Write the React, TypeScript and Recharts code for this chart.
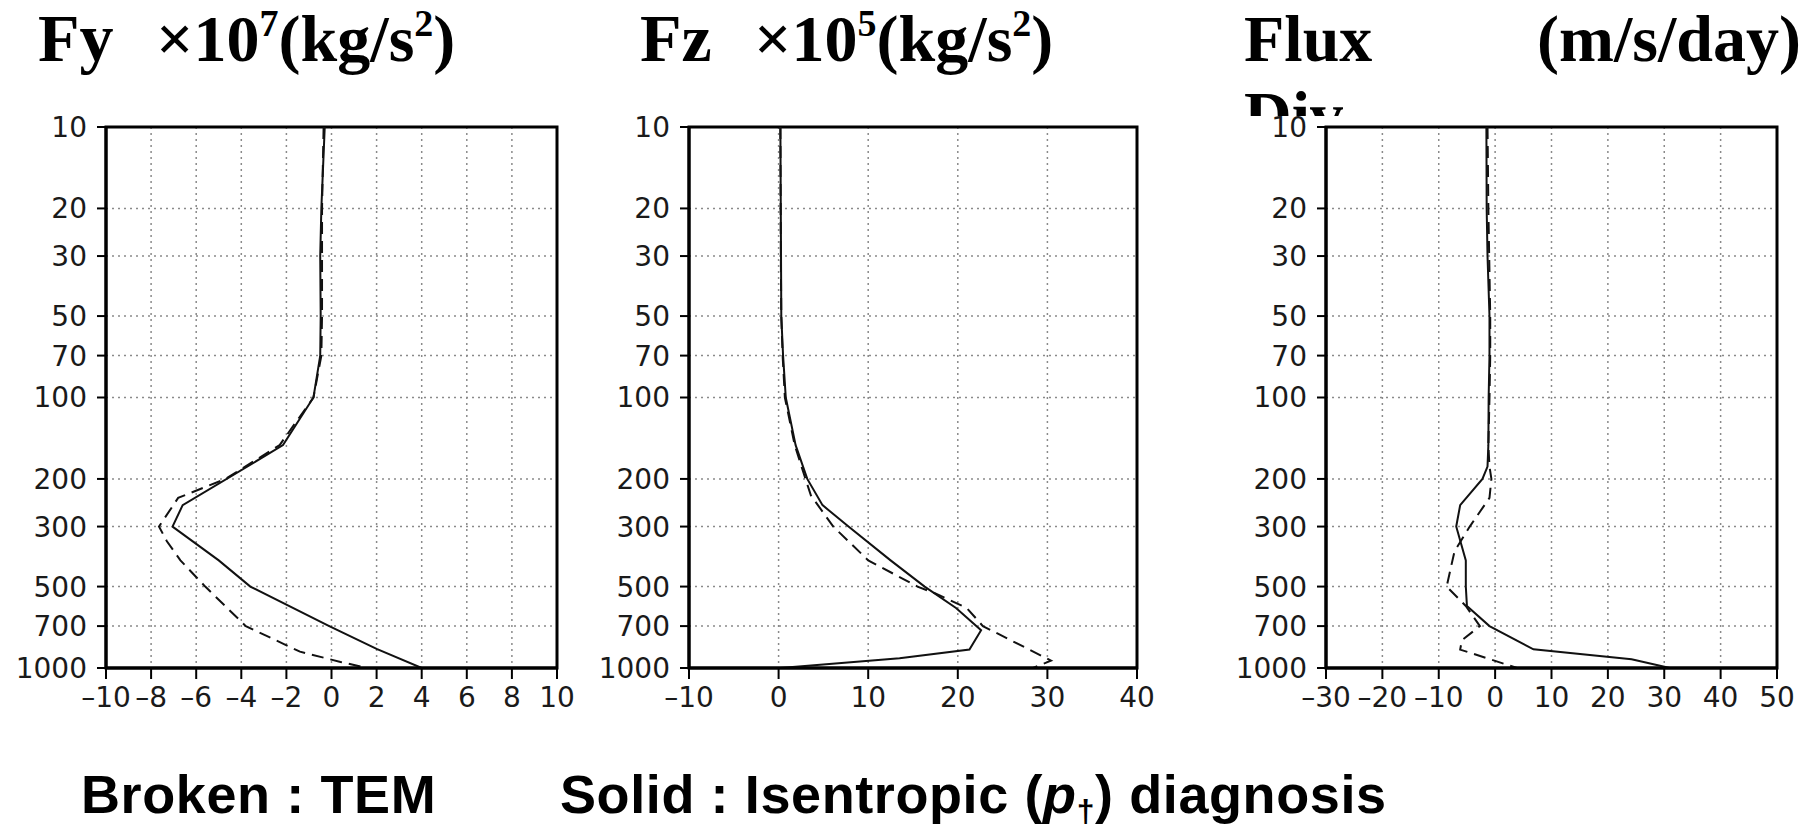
import { LineChart, Line, XAxis, YAxis, CartesianGrid, ReferenceArea } from "recharts"

// pressure levels (hPa) used for y ticks
const levels = [10, 20, 30, 50, 70, 100, 200, 300, 500, 700, 1000]

// Fy x10^7 (kg/s2)
const fyTicks = [-10, -8, -6, -4, -2, 0, 2, 4, 6, 8, 10]
const fySolidP = [10, 20, 30, 50, 70, 100, 150, 250, 300, 400, 500, 700, 850, 1000]
const fySolidX = [-0.3, -0.45, -0.5, -0.48, -0.5, -0.8, -2.15, -6.6, -7.05, -5.0, -3.6, -0.1, 2.0, 4.0]
const fyDashP = [10, 20, 50, 70, 100, 150, 200, 235, 300, 340, 400, 500, 700, 870, 950, 1000]
const fyDashX = [-0.35, -0.42, -0.42, -0.45, -0.8, -2.3, -4.7, -6.8, -7.65, -7.3, -6.7, -5.6, -3.8, -1.4, 0.4, 1.6]

// Fz x10^5 (kg/s2)
const fzTicks = [-10, 0, 10, 20, 30, 40]
const fzSolidP = [10, 30, 50, 70, 100, 150, 200, 250, 300, 400, 500, 600, 725, 855, 921, 1000]
const fzSolidX = [0.2, 0.27, 0.3, 0.5, 0.8, 1.9, 3.2, 4.9, 7.8, 12.5, 16.3, 19.8, 22.6, 21.3, 13.5, 0.2]
const fzDashP = [10, 30, 50, 70, 100, 150, 200, 230, 300, 400, 500, 530, 600, 700, 921, 940, 1000]
const fzDashX = [0.2, 0.25, 0.3, 0.45, 0.7, 1.8, 3.0, 3.6, 6.1, 10.0, 15.5, 17.5, 21.0, 22.8, 29.9, 30.4, 28.4]

// Flux Div (m/s/day)
const divTicks = [-30, -20, -10, 0, 10, 20, 30, 40, 50]
const divSolidP = [10, 20, 30, 50, 70, 100, 150, 180, 200, 250, 300, 400, 500, 590, 700, 853, 929, 1000]
const divSolidX = [-1.55, -1.5, -1.35, -1.0, -1.0, -1.15, -1.2, -1.35, -2.25, -6.2, -6.9, -5.2, -5.2, -5.0, -1.0, 6.8, 24.2, 31.0]
const divDashP = [10, 20, 50, 70, 100, 150, 180, 200, 235, 300, 370, 500, 590, 700, 790, 855, 1000]
const divDashX = [-1.35, -1.2, -0.87, -0.87, -1.0, -1.2, -1.0, -0.66, -1.0, -4.5, -7.2, -8.6, -5.2, -2.7, -5.9, -6.2, 3.9]

const toPoints = (p: number[], x: number[]) => p.map((v, i) => ({ p: v, x: x[i] }))
// short dash as minus, like the original plot
const fmt = (v: number) => (v < 0 ? "\u2013" + Math.abs(v) : String(v))

const tickFont = { fill: "#1a1a1a", fontSize: 28, fontFamily: "DejaVu Sans" }

function Panel({ left, width, yWidth, right, xTicks, solid, dashed }: any) {
  const x0 = xTicks[0]
  const x1 = xTicks[xTicks.length - 1]
  return (
    <div style={{ position: "absolute", left, top: 100, width, height: 640 }}>
      <LineChart layout="vertical" width={width} height={640} margin={{ top: 27, right, bottom: 0, left: 0 }}>
        <CartesianGrid stroke="#8a8a8a" strokeWidth={1.5} strokeDasharray="2 4" />
        <XAxis
          type="number"
          domain={[x0, x1]}
          ticks={xTicks}
          interval={0}
          allowDataOverflow
          tickFormatter={fmt}
          height={72}
          tickSize={11}
          tickMargin={8}
          tick={tickFont}
          axisLine={{ stroke: "#000", strokeWidth: 3 }}
          tickLine={{ stroke: "#000", strokeWidth: 2 }}
        />
        <YAxis
          type="number"
          dataKey="p"
          scale="log"
          domain={[10, 1000]}
          ticks={levels}
          interval={0}
          allowDataOverflow
          width={yWidth}
          tickSize={9}
          tickMargin={10}
          tick={tickFont}
          axisLine={{ stroke: "#000", strokeWidth: 3 }}
          tickLine={{ stroke: "#000", strokeWidth: 2 }}
        />
        <ReferenceArea x1={x0} x2={x1} y1={10} y2={1000} fill="none" stroke="#000" strokeWidth={3} />
        <Line data={dashed} dataKey="x" type="linear" stroke="#111" strokeWidth={2} strokeDasharray="12 7" dot={false} isAnimationActive={false} />
        <Line data={solid} dataKey="x" type="linear" stroke="#111" strokeWidth={2} dot={false} isAnimationActive={false} />
      </LineChart>
    </div>
  )
}

function Units({ x, exp }: { x: number; exp: string }) {
  return (
    <text x={x} y={61}>
      ×10<tspan fontSize={38} dy={-25}>{exp}</tspan>
      <tspan dy={25}>(kg/s</tspan>
      <tspan fontSize={38} dy={-25}>2</tspan>
      <tspan dy={25}>)</tspan>
    </text>
  )
}

export default function App() {
  const titleFont = { fontFamily: "'Liberation Serif', 'Times New Roman', serif", fontWeight: 700, fontSize: 66 }
  return (
    <div style={{ position: "absolute", left: 0, top: 0, width: 1814, height: 827, background: "#fff" }}>
      <svg width={1814} height={827} style={{ position: "absolute", left: 0, top: 0 }}>
        <g style={titleFont} fill="#000">
          <text x={38} y={61} fontSize={68}>Fy</text>
          <Units x={156} exp="7" />
          <text x={640} y={61} fontSize={68}>Fz</text>
          <Units x={754} exp="5" />
          <text x={1244} y={61}>Flux</text>
          <text x={1801} y={61} textAnchor="end">(m/s/day)</text>
          <text x={1244} y={137}>Div</text>
        </g>
        {/* the third plot hides the lower half of "Div" */}
        <rect x={1240} y={116} width={150} height={40} fill="#fff" />
        <g fontFamily="'Liberation Sans', Arial, sans-serif" fontWeight={700} fontSize={54} fill="#000" letterSpacing={0.6}>
          <text x={81} y={813}>Broken : TEM</text>
          <text x={560} y={813}>
            Solid : Isentropic (<tspan fontStyle="italic">p</tspan>
            <tspan fontSize={32} dy={9}>†</tspan>
            <tspan dy={-9}>) diagnosis</tspan>
          </text>
        </g>
      </svg>
      <Panel left={0} width={600} yWidth={106} right={43} xTicks={fyTicks}
        solid={toPoints(fySolidP, fySolidX)} dashed={toPoints(fyDashP, fyDashX)} />
      <Panel left={580} width={600} yWidth={109} right={43} xTicks={fzTicks}
        solid={toPoints(fzSolidP, fzSolidX)} dashed={toPoints(fzDashP, fzDashX)} />
      <Panel left={1220} width={594} yWidth={106} right={37} xTicks={divTicks}
        solid={toPoints(divSolidP, divSolidX)} dashed={toPoints(divDashP, divDashX)} />
    </div>
  )
}
